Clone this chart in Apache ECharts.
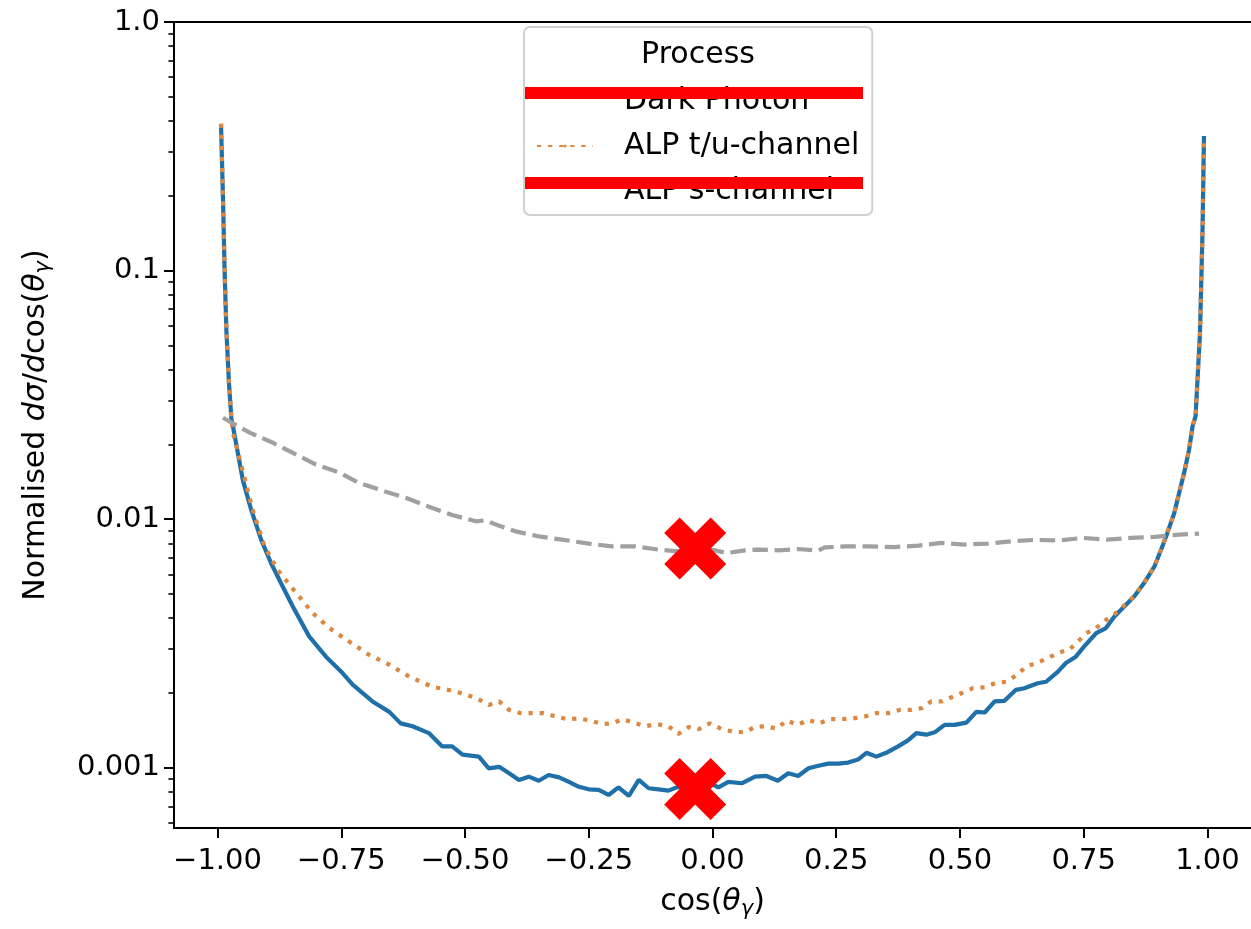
<!DOCTYPE html>
<html>
<head>
<meta charset="utf-8">
<script src="https://cdn.jsdelivr.net/npm/echarts@6/dist/echarts.min.js"></script>
<style>html,body{margin:0;padding:0;background:#fff}#c{width:1251px;height:929px}</style>
</head>
<body>
<div id="c"></div>
<script>
// ---------------- data ----------------
const darkX = [-0.993,-0.989,-0.986,-0.982,-0.977,-0.972,-0.969,-0.949,-0.932,-0.912,-0.892,-0.872,-0.848,-0.815,-0.781,-0.747,-0.727,-0.687,-0.653,-0.630,-0.606,-0.573,-0.546,-0.526,-0.505,-0.472,-0.452,-0.431,-0.411,-0.391,-0.371,-0.351,-0.331,-0.310,-0.290,-0.270,-0.250,-0.230,-0.210,-0.190,-0.169,-0.149,-0.129,-0.109,-0.089,-0.069,-0.044,-0.022,-0.001,0.012,0.032,0.059,0.086,0.109,0.132,0.153,0.173,0.194,0.214,0.234,0.254,0.274,0.294,0.311,0.331,0.351,0.375,0.395,0.412,0.432,0.449,0.469,0.489,0.513,0.533,0.550,0.570,0.590,0.613,0.630,0.657,0.674,0.698,0.714,0.734,0.751,0.775,0.795,0.812,0.832,0.852,0.872,0.893,0.909,0.919,0.933,0.943,0.953,0.963,0.970,0.976,0.985,0.990,0.993];
const darkY = [0.388,0.194,0.104,0.0565,0.0355,0.0252,0.0237,0.0144,0.0109,0.00828,0.00667,0.00554,0.00446,0.00338,0.00280,0.00240,0.00216,0.00185,0.00168,0.00151,0.00147,0.00138,0.00122,0.00122,0.00113,0.00111,0.000996,0.00101,0.000951,0.000894,0.000922,0.000888,0.000936,0.000916,0.000879,0.000839,0.000820,0.000815,0.000778,0.000835,0.000771,0.000894,0.000828,0.000820,0.000810,0.000839,0.000820,0.000830,0.000861,0.000835,0.000879,0.000867,0.000922,0.000928,0.000888,0.000951,0.000928,0.000996,0.00102,0.00104,0.00104,0.00105,0.00108,0.00115,0.00111,0.00115,0.00122,0.00129,0.00138,0.00136,0.00139,0.00149,0.00149,0.00152,0.00168,0.00167,0.00185,0.00186,0.00206,0.00209,0.00219,0.00222,0.00244,0.00264,0.00280,0.00308,0.00348,0.00365,0.00406,0.00446,0.00489,0.00554,0.00646,0.00778,0.00881,0.0106,0.0128,0.0154,0.0191,0.0237,0.0260,0.0565,0.143,0.348];

const tuX = [-0.993,-0.989,-0.986,-0.982,-0.977,-0.972,-0.969,-0.929,-0.905,-0.879,-0.841,-0.808,-0.774,-0.734,-0.694,-0.653,-0.613,-0.566,-0.519,-0.478,-0.452,-0.431,-0.411,-0.388,-0.364,-0.341,-0.317,-0.294,-0.270,-0.247,-0.223,-0.203,-0.181,-0.159,-0.136,-0.112,-0.089,-0.069,-0.048,-0.028,-0.005,0.019,0.041,0.064,0.086,0.106,0.130,0.150,0.172,0.194,0.215,0.237,0.261,0.284,0.308,0.331,0.355,0.378,0.402,0.423,0.442,0.464,0.482,0.504,0.526,0.550,0.571,0.593,0.616,0.634,0.654,0.677,0.698,0.721,0.738,0.755,0.775,0.795,0.812,0.832,0.852,0.872,0.893,0.909,0.919,0.933,0.943,0.953,0.963,0.970,0.976,0.985,0.990,0.993];
const tuY = [0.39,0.194,0.104,0.0565,0.0355,0.0252,0.0223,0.0109,0.00778,0.00627,0.00505,0.00420,0.00365,0.00322,0.00285,0.00260,0.00233,0.00212,0.00203,0.00191,0.00179,0.00185,0.00171,0.00166,0.00166,0.00166,0.00161,0.00157,0.00158,0.00155,0.00150,0.00151,0.00157,0.00152,0.00147,0.00150,0.00147,0.00137,0.00146,0.00143,0.00151,0.00143,0.00140,0.00139,0.00146,0.00147,0.00144,0.00155,0.00149,0.00156,0.00151,0.00157,0.00157,0.00158,0.00161,0.00166,0.00166,0.00171,0.00171,0.00174,0.00185,0.00185,0.00192,0.00200,0.00209,0.00211,0.00219,0.00222,0.00237,0.00256,0.00264,0.00276,0.00290,0.00299,0.00322,0.00348,0.00365,0.00394,0.00415,0.00450,0.00492,0.00556,0.00648,0.00780,0.00885,0.0106,0.0128,0.0154,0.0191,0.0237,0.0260,0.0565,0.143,0.345];

const sX = [-0.989,-0.935,-0.888,-0.841,-0.801,-0.754,-0.714,-0.660,-0.620,-0.566,-0.526,-0.478,-0.460,-0.431,-0.398,-0.351,-0.304,-0.250,-0.203,-0.156,-0.109,-0.069,-0.028,-0.001,0.029,0.066,0.093,0.133,0.173,0.214,0.227,0.268,0.315,0.368,0.415,0.462,0.509,0.556,0.603,0.651,0.701,0.748,0.798,0.845,0.893,0.943,0.983];
const sY = [0.0256,0.0223,0.0203,0.0182,0.0166,0.0154,0.0140,0.0129,0.0122,0.0111,0.0104,0.00981,0.0099,0.00942,0.00894,0.00853,0.00828,0.00798,0.00778,0.00778,0.00755,0.00743,0.00740,0.00755,0.00731,0.00750,0.00755,0.00750,0.00759,0.00748,0.00770,0.00778,0.00778,0.00773,0.00783,0.00803,0.00791,0.00798,0.00815,0.00826,0.00822,0.00841,0.00828,0.00841,0.00849,0.00867,0.00875];

const seriesNames = ['Dark Photon', 'ALP t/u-channel', 'ALP s-channel'];
const legendTitle = 'Process';
// legend entries that are struck out in the reference (their handles are hidden)
const struckEntries = ['Dark Photon', 'ALP s-channel'];

// red cross annotations
const markX = [-0.035, -0.035];
const markY = [0.00762, 0.000822];

const xTicks = [-1, -0.75, -0.5, -0.25, 0, 0.25, 0.5, 0.75, 1];
const yTicks = [0.001, 0.01, 0.1, 1];
const yTickLabels = ['0.001', '0.01', '0.1', '1.0'];
const yMinorTicks = [0.0006,0.0007,0.0008,0.0009,0.002,0.003,0.004,0.005,0.006,0.007,0.008,0.009,0.02,0.03,0.04,0.05,0.06,0.07,0.08,0.09,0.2,0.3,0.4,0.5,0.6,0.7,0.8,0.9];

// ---------------- chart ----------------
const FONT = 'DejaVu Sans';
const X_MIN = -1.088, X_MAX = 1.088, Y_MIN = 0.000573, Y_MAX = 1;
const L = v => Math.log10(v);
const pairs = (xs, ys) => xs.map((x, i) => [x, ys[i]]);
const fmtX = v => {
  const s = Math.abs(v).toFixed(2);
  return v < -1e-9 ? '\u2212' + s : s;
};
const fmtY = v => {
  for (let i = 0; i < yTicks.length; i++) if (Math.abs(L(yTicks[i]) - v) < 1e-6) return yTickLabels[i];
  return '';
};
const TF = 29;   // tick font
const NF = 30;   // axis-title / legend font
const rich = {
  n: {fontFamily: FONT, fontSize: NF, color: '#000'},
  i: {fontFamily: FONT, fontSize: NF, fontStyle: 'italic', color: '#000'},
  s: {fontFamily: FONT, fontSize: 21, fontStyle: 'italic', color: '#000', padding: [15, 0, 0, 0]}
};
const black = {color: '#000', width: 2};
const clear = 'rgba(0,0,0,0)';

const chart = echarts.init(document.getElementById('c'), null, {renderer: 'canvas'});
chart.setOption({
  animation: false,
  backgroundColor: '#fff',
  grid: {left: 174, right: -3, top: 22, bottom: 101, show: false},
  xAxis: [
    {
      type: 'value', min: X_MIN, max: X_MAX, position: 'bottom',
      axisLine: {show: true, onZero: false, lineStyle: black},
      axisTick: {show: true, customValues: xTicks, length: 10, lineStyle: black},
      axisLabel: {customValues: xTicks, formatter: fmtX, fontFamily: FONT, fontSize: TF, color: '#000', margin: 19},
      splitLine: {show: false},
      name: '{n|cos(}{i|θ}{s|γ}{n|)}',
      nameLocation: 'middle', nameGap: 56,
      nameTextStyle: {fontFamily: FONT, fontSize: NF, color: '#000', rich: rich}
    },
    {
      type: 'value', min: X_MIN, max: X_MAX, position: 'top',
      axisLine: {show: true, onZero: false, lineStyle: black},
      axisTick: {show: false}, axisLabel: {show: false}, splitLine: {show: false}
    }
  ],
  yAxis: [
    {type: 'log', logBase: 10, min: Y_MIN, max: Y_MAX, show: false},
    {
      type: 'value', min: L(Y_MIN), max: L(Y_MAX), position: 'left',
      axisLine: {show: true, onZero: false, lineStyle: black},
      axisTick: {show: true, customValues: yTicks.map(L), length: 10, lineStyle: black},
      axisLabel: {customValues: yTicks.map(L), formatter: fmtY, fontFamily: FONT, fontSize: TF, color: '#000', margin: 14},
      splitLine: {show: false},
      name: '{n|Normalised }{i|dσ}{n|/}{i|d}{n|cos(}{i|θ}{s|γ}{n|)}',
      nameLocation: 'middle', nameGap: 120, nameRotate: 90,
      nameTextStyle: {fontFamily: FONT, fontSize: NF, color: '#000', rich: rich}
    },
    {
      type: 'value', min: L(Y_MIN), max: L(Y_MAX), position: 'left',
      axisLine: {show: false, onZero: false},
      axisTick: {show: true, customValues: yMinorTicks.map(L), length: 5.6, lineStyle: {color: '#000', width: 1.6}},
      axisLabel: {show: false},
      splitLine: {show: false}
    }
  ],
  legend: {
    data: seriesNames.map(n => struckEntries.includes(n)
      ? {name: n, lineStyle: {color: clear}, itemStyle: {color: clear}}
      : {name: n}),
    orient: 'vertical', left: 524, top: 27,
    padding: [59, 13, 9, 12],
    itemGap: 15, itemWidth: 56, itemHeight: 4,
    backgroundColor: 'rgba(255,255,255,0.85)',
    borderColor: '#d0d0d0', borderWidth: 2, borderRadius: 6,
    selectedMode: false,
    textStyle: {fontFamily: FONT, fontSize: NF, color: '#000', lineHeight: 30, padding: [0, 0, 0, 26]}
  },
  series: [
    {
      name: seriesNames[0], type: 'line', xAxisIndex: 0, yAxisIndex: 0,
      data: pairs(darkX, darkY), symbol: 'none', showSymbol: false,
      lineStyle: {color: '#1f6fa8', width: 4.2}, itemStyle: {color: '#1f6fa8'}, z: 2
    },
    {
      name: seriesNames[1], type: 'line', xAxisIndex: 0, yAxisIndex: 0,
      data: pairs(tuX, tuY), symbol: 'none', showSymbol: false,
      lineStyle: {color: '#dc8842', width: 4.2, type: [4.2, 6.9], cap: 'butt'}, itemStyle: {color: '#dc8842'}, z: 3
    },
    {
      name: seriesNames[2], type: 'line', xAxisIndex: 0, yAxisIndex: 0,
      data: pairs(sX, sY), symbol: 'none', showSymbol: false,
      lineStyle: {color: '#a0a0a0', width: 4.2, type: [15.5, 6.7], cap: 'butt'}, itemStyle: {color: '#a0a0a0'}, z: 4
    },
    {
      name: 'marks', type: 'scatter', xAxisIndex: 0, yAxisIndex: 0,
      data: pairs(markX, markY),
      symbol: 'path://M25,0L50,25L75,0L100,25L75,50L100,75L75,100L50,75L25,100L0,75L25,50L0,25Z',
      symbolSize: 62, itemStyle: {color: '#ff0000', opacity: 1}, z: 10, silent: true
    }
  ],
  graphic: [
    {type: 'text', x: 698, y: 55, z: 100, style: {text: legendTitle, font: NF + 'px "DejaVu Sans"', fill: '#000', align: 'center', verticalAlign: 'middle'}},
    {type: 'rect', z: 100, shape: {x: 525, y: 87, width: 338, height: 12}, style: {fill: '#ff0000'}},
    {type: 'rect', z: 100, shape: {x: 525, y: 177, width: 338, height: 12}, style: {fill: '#ff0000'}}
  ]
});
</script>
</body>
</html>
